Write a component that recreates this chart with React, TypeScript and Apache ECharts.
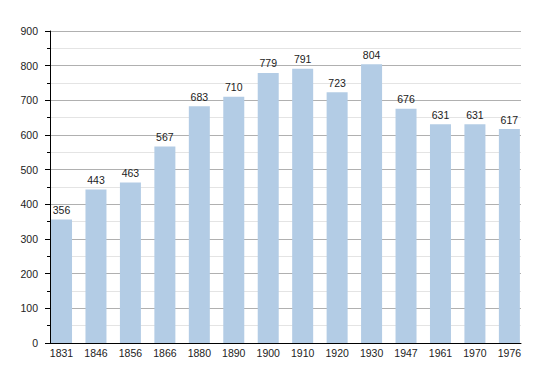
import React, { useEffect, useRef } from "react";
import * as echarts from "echarts";

const categories = ["1831", "1846", "1856", "1866", "1880", "1890", "1900", "1910", "1920", "1930", "1947", "1961", "1970", "1976"];
const population = [356, 443, 463, 567, 683, 710, 779, 791, 723, 804, 676, 631, 631, 617];
const yMin = 0;
const yMax = 900;
const yInterval = 100;

export default function App() {
  const ref = useRef<HTMLDivElement>(null);
  useEffect(() => {
    if (!ref.current) return;
    const chart = echarts.init(ref.current, null, { renderer: "svg" });
    const font = "'Liberation Sans', Arial, sans-serif";
    chart.setOption({
      animation: false,
      backgroundColor: "#ffffff",
      grid: [
        { left: 50, right: 29, top: 31, bottom: 30, containLabel: false },
        { left: 44.3, right: 23.4, top: 31, bottom: 30, containLabel: false },
      ],
      xAxis: [
        {
          type: "value",
          gridIndex: 0,
          min: 0,
          max: 1,
          axisLine: { show: true, lineStyle: { color: "#000", width: 1 } },
          axisTick: { show: false },
          axisLabel: { show: false },
          splitLine: { show: false },
        },
        {
          type: "category",
          gridIndex: 1,
          data: categories,
          axisLine: { show: false },
          axisTick: { show: false },
          axisLabel: { color: "#222", fontSize: 10.5, fontFamily: font, margin: 4, interval: 0 },
          splitLine: { show: false },
        },
      ],
      yAxis: [
        {
          type: "value",
          gridIndex: 0,
          min: yMin,
          max: yMax,
          interval: yInterval,
          axisLine: { show: true, lineStyle: { color: "#000", width: 1 } },
          axisTick: { show: true, length: 5, lineStyle: { color: "#000" } },
          minorTick: { show: true, splitNumber: 2, length: 3, lineStyle: { color: "#000" } },
          axisLabel: { color: "#222", fontSize: 10.5, fontFamily: font, margin: 12 },
          splitLine: { show: true, lineStyle: { color: "#b0b0b0", width: 1 } },
          minorSplitLine: { show: true, lineStyle: { color: "#e4e4e4", width: 1 } },
        },
        {
          type: "value",
          gridIndex: 1,
          min: yMin,
          max: yMax,
          show: false,
          splitLine: { show: false },
        },
      ],
      series: [
        {
          type: "bar",
          xAxisIndex: 1,
          yAxisIndex: 1,
          data: population,
          barWidth: 21,
          itemStyle: { color: "#b3cce5" },
          label: {
            show: true,
            position: "top",
            distance: 4,
            color: "#222",
            fontSize: 10.5,
            fontFamily: font,
          },
          z: 3,
        },
      ],
    });
    return () => chart.dispose();
  }, []);
  return <div ref={ref} style={{ position: "fixed", left: 0, top: 0, width: 550, height: 373 }} />;
}
